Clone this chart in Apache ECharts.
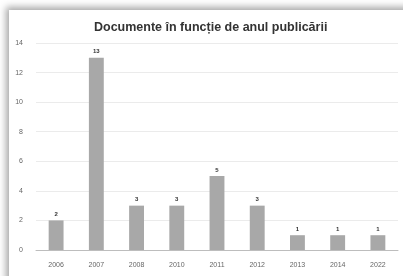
<!DOCTYPE html>
<html>
<head>
<meta charset="utf-8">
<script src="https://cdn.jsdelivr.net/npm/echarts@6/dist/echarts.min.js"></script>
<style>
html, body { margin: 0; padding: 0; background: #ffffff; overflow: hidden; }
.card {
	position: absolute; left: 9px; top: 10px; width: 440px; height: 320px;
	background: #fff;
	box-shadow: -3px -3px 7px rgba(0,0,0,0.35);
}
#chart { position: absolute; left: 0; top: 0; width: 403px; height: 276px; }
</style>
</head>
<body>
<div class="card"></div>
<div id="chart"></div>
<script>
// ani si numar de documente
const years = ["2006", "2007", "2008", "2010", "2011", "2012", "2013", "2014", "2022"]
const docs = [2, 13, 3, 3, 5, 3, 1, 1, 1]
const titleText = "Documente în funcție de anul publicării"

const option = {
	backgroundColor: "transparent",
	animation: false,
	title: {
		text: titleText,
		left: 89,
		top: 16,
		textStyle: { fontFamily: "Liberation Sans", fontSize: 12.5, fontWeight: "bold", color: "#333" }
	},
	grid: { left: 36, right: 5, top: 43, bottom: 26 },
	xAxis: {
		type: "category",
		data: years,
		axisTick: { show: false },
		axisLine: { lineStyle: { color: "#bdbdbd", width: 1 } },
		axisLabel: { fontFamily: "Liberation Sans", fontSize: 7, color: "#666", margin: 12 }
	},
	yAxis: {
		type: "value",
		min: 0,
		max: 14,
		interval: 2,
		axisLabel: { fontFamily: "Liberation Sans", fontSize: 7, color: "#666", margin: 13 },
		splitLine: { lineStyle: { color: "#ebebeb", width: 1 } }
	},
	series: [{
		type: "bar",
		data: docs,
		barWidth: "37%",
		itemStyle: { color: "#a8a8a8" },
		label: {
			show: true,
			position: "top",
			distance: 3,
			fontFamily: "Liberation Sans",
			fontSize: 6,
			fontWeight: "bold",
			color: "#333"
		}
	}]
}
const myChart = echarts.init(document.getElementById("chart"))
myChart.setOption(option)
</script>
</body>
</html>
